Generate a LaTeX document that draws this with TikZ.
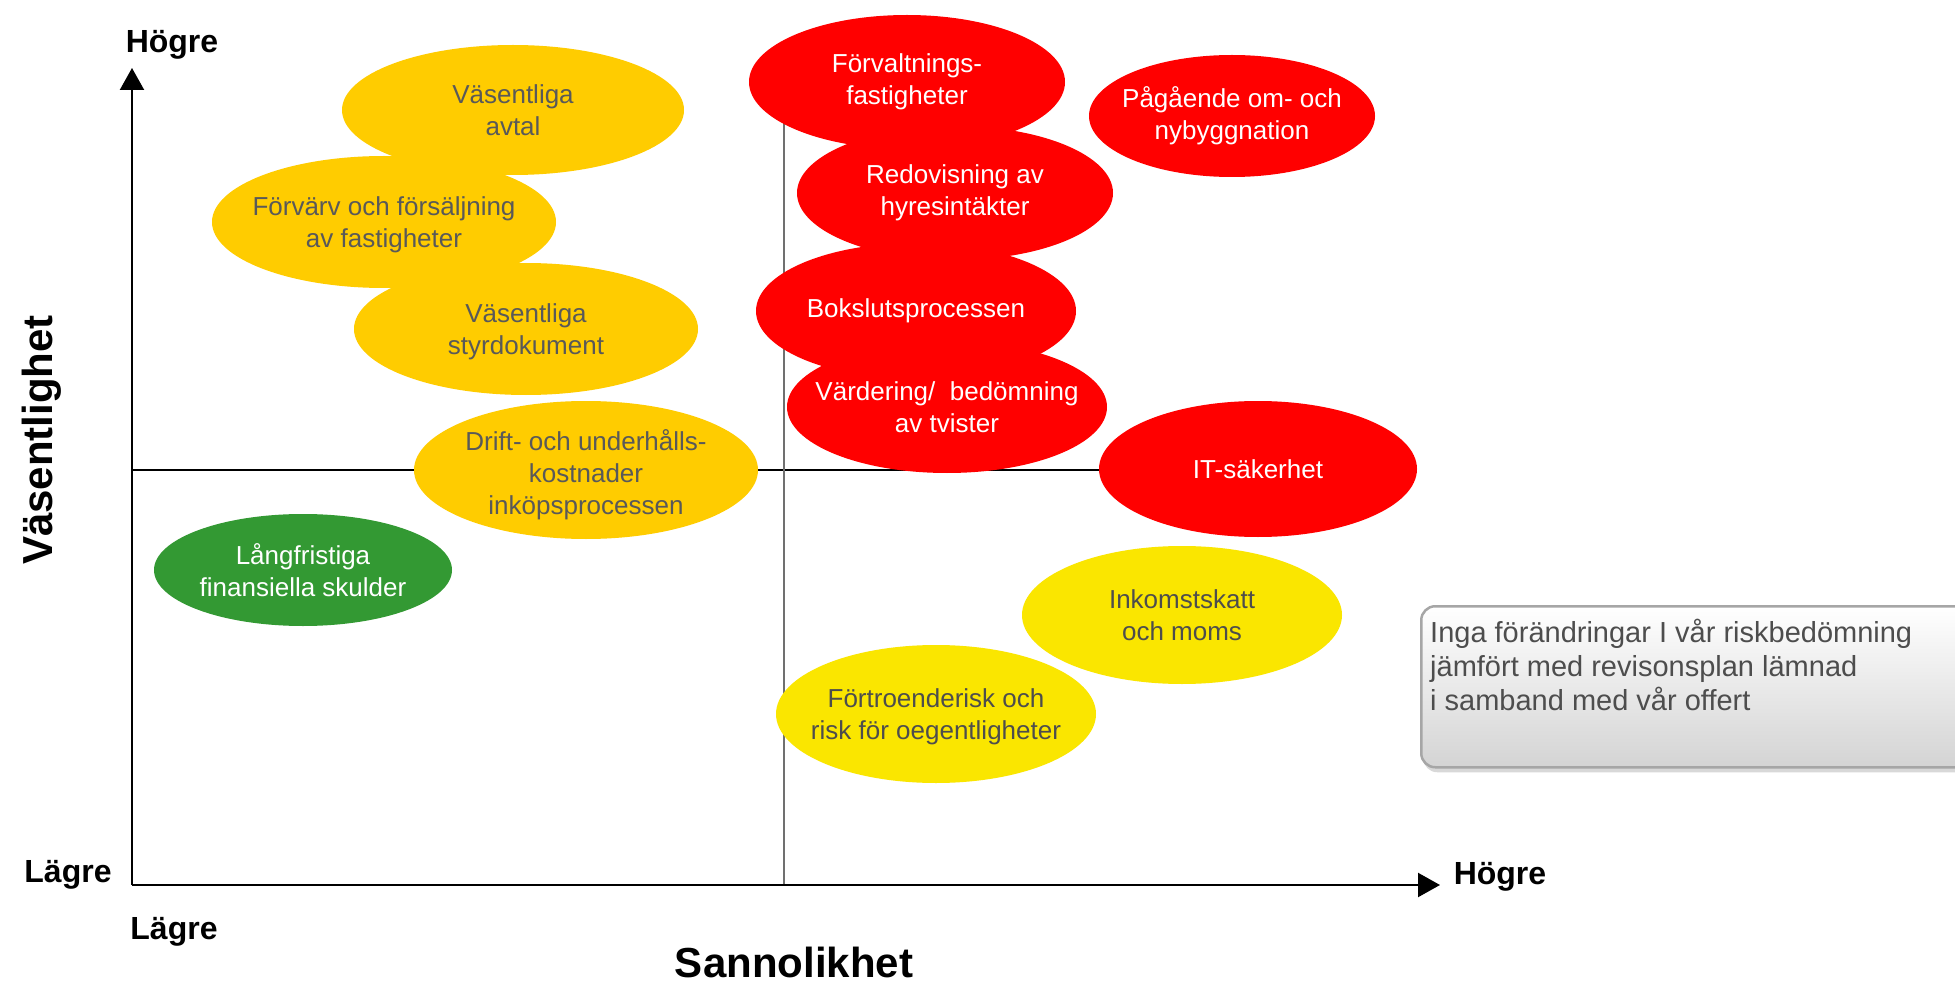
\documentclass[tikz,border=0pt]{standalone}
\usepackage{fontspec}
\setmainfont{Liberation Sans}
\usetikzlibrary{shapes.geometric,arrows.meta,shadows}
\definecolor{cyel}{HTML}{FFCC00}
\definecolor{cyel2}{HTML}{FAE600}
\definecolor{cred}{HTML}{FF0000}
\definecolor{cgreen}{HTML}{339933}
\definecolor{cgray}{HTML}{595959}
\definecolor{cdark}{HTML}{4D4D4D}
\definecolor{cvline}{HTML}{707070}
\definecolor{cboxline}{HTML}{A6A6A6}
\begin{document}
\begin{tikzpicture}[x=1pt,y=-1pt,
  ell/.style={ellipse, inner sep=0pt, draw=none},
  yel/.style={ell, fill=cyel},
  yel2/.style={ell, fill=cyel2},
  redell/.style={ell, fill=cred},
  grn/.style={ell, fill=cgreen},
  etext/.style={inner sep=0pt, align=center, font=\fontsize{26}{32}\selectfont},
  tgray/.style={etext, text=cgray},
  tdark/.style={etext, text=cdark},
  twhite/.style={etext, text=white},
  lab/.style={font=\fontsize{32}{38}\selectfont\bfseries, inner sep=0pt, anchor=base},
  biglab/.style={font=\fontsize{42}{50}\selectfont\bfseries, inner sep=0pt, anchor=base},
  axis/.style={line width=2.2pt, -{Triangle[width=24pt,length=22pt]}},
  notebox/.style={draw=cboxline, line width=2.5pt, rounded corners=14pt, top color=white, bottom color=black!17,
    drop shadow={opacity=0.3, shadow xshift=2pt, shadow yshift=-5pt}, inner sep=0pt, anchor=north west}
]
\clip (0,0) rectangle (1955,984);
\fill[white] (0,0) rectangle (1955,984);

% axes and quadrant lines
\coordinate (o) at (132,885);
\coordinate (ytip) at (132,68);
\coordinate (xtip) at (1440,885);
\coordinate (mh1) at (132,470);
\coordinate (mh2) at (1259,470);
\coordinate (mv1) at (784,100);
\coordinate (mv2) at (784,885);
\draw[line width=2pt, black] (mh1) -- (mh2);
\draw[line width=2pt, cvline] (mv1) -- (mv2);
\draw[axis] (o) -- (ytip);
\draw[axis] (o) -- (xtip);

% yellow / green ellipses
\node[yel, minimum width=342pt, minimum height=130pt] (avtal) at (513,110) {};
\node[tgray] (avtal-t) at (avtal) {Väsentliga\\avtal};
\node[yel, minimum width=344pt, minimum height=132pt] (forvarv) at (384,222) {};
\node[tgray, yshift=-3pt] (forvarv-t) at (forvarv) {Förvärv och försäljning\\av fastigheter};
\node[yel, minimum width=344pt, minimum height=132pt] (styr) at (526,329) {};
\node[tgray, yshift=-3pt] (styr-t) at (styr) {Väsentliga\\styrdokument};
\node[yel, minimum width=344pt, minimum height=138pt] (drift) at (586,470) {};
\node[tgray, yshift=-5pt] (drift-t) at (drift) {Drift- och underhålls-\\kostnader\\inköpsprocessen};
\node[grn, minimum width=298pt, minimum height=112pt] (lang) at (303,570) {};
\node[twhite] (lang-t) at (lang) {Långfristiga\\finansiella skulder};

% red ellipses
\node[redell, minimum width=316pt, minimum height=134pt] (forvalt) at (907,82) {};
\node[twhite] (forvalt-t) at (forvalt) {Förvaltnings-\\fastigheter};
\node[redell, minimum width=286pt, minimum height=122pt] (pag) at (1232,116) {};
\node[twhite] (pag-t) at (pag) {Pågående om- och\\nybyggnation};
\node[redell, minimum width=316pt, minimum height=134pt] (redov) at (955,193) {};
\node[twhite] (redov-t) at (redov) {Redovisning av\\hyresintäkter};
\node[redell, minimum width=320pt, minimum height=136pt] (boks) at (916,311) {};
\node[twhite] (boks-t) at (boks) {Bokslutsprocessen};
\node[redell, minimum width=320pt, minimum height=132pt] (varde) at (947,407) {};
\node[twhite] (varde-t) at (varde) {Värdering/\ \ bedömning\\av tvister};
\node[redell, minimum width=318pt, minimum height=136pt] (it) at (1258,469) {};
\node[twhite] (it-t) at (it) {IT-säkerhet};

% bright yellow ellipses
\node[yel2, minimum width=320pt, minimum height=138pt] (inkomst) at (1182,615) {};
\node[tdark] (inkomst-t) at (inkomst) {Inkomstskatt\\och moms};
\node[yel2, minimum width=320pt, minimum height=138pt] (fortro) at (936,714) {};
\node[tdark, yshift=-3pt] (fortro-t) at (fortro) {Förtroenderisk och\\risk för oegentligheter};

% note box
\node[notebox, minimum width=560pt, minimum height=161pt] (note) at (1420,605) {};
\node[anchor=north west, inner sep=0pt, align=left, text=cdark, font=\fontsize{29}{34}\selectfont] (notetext) at (1430,619)
  {Inga förändringar I vår riskbedömning\\jämfört med revisonsplan lämnad\\i samband med vår offert};

% axis labels
\node[lab] (hogtop) at (172,53) {Högre};
\node[lab] (lagleft) at (68,882) {Lägre};
\node[lab] (lagbot) at (174,939) {Lägre};
\node[lab] (hogright) at (1500,884) {Högre};
\node[biglab] (sann) at (794,977) {Sannolikhet};
\node[biglab, rotate=90] (vas) at (52,440) {Väsentlighet};
\end{tikzpicture}
\end{document}
